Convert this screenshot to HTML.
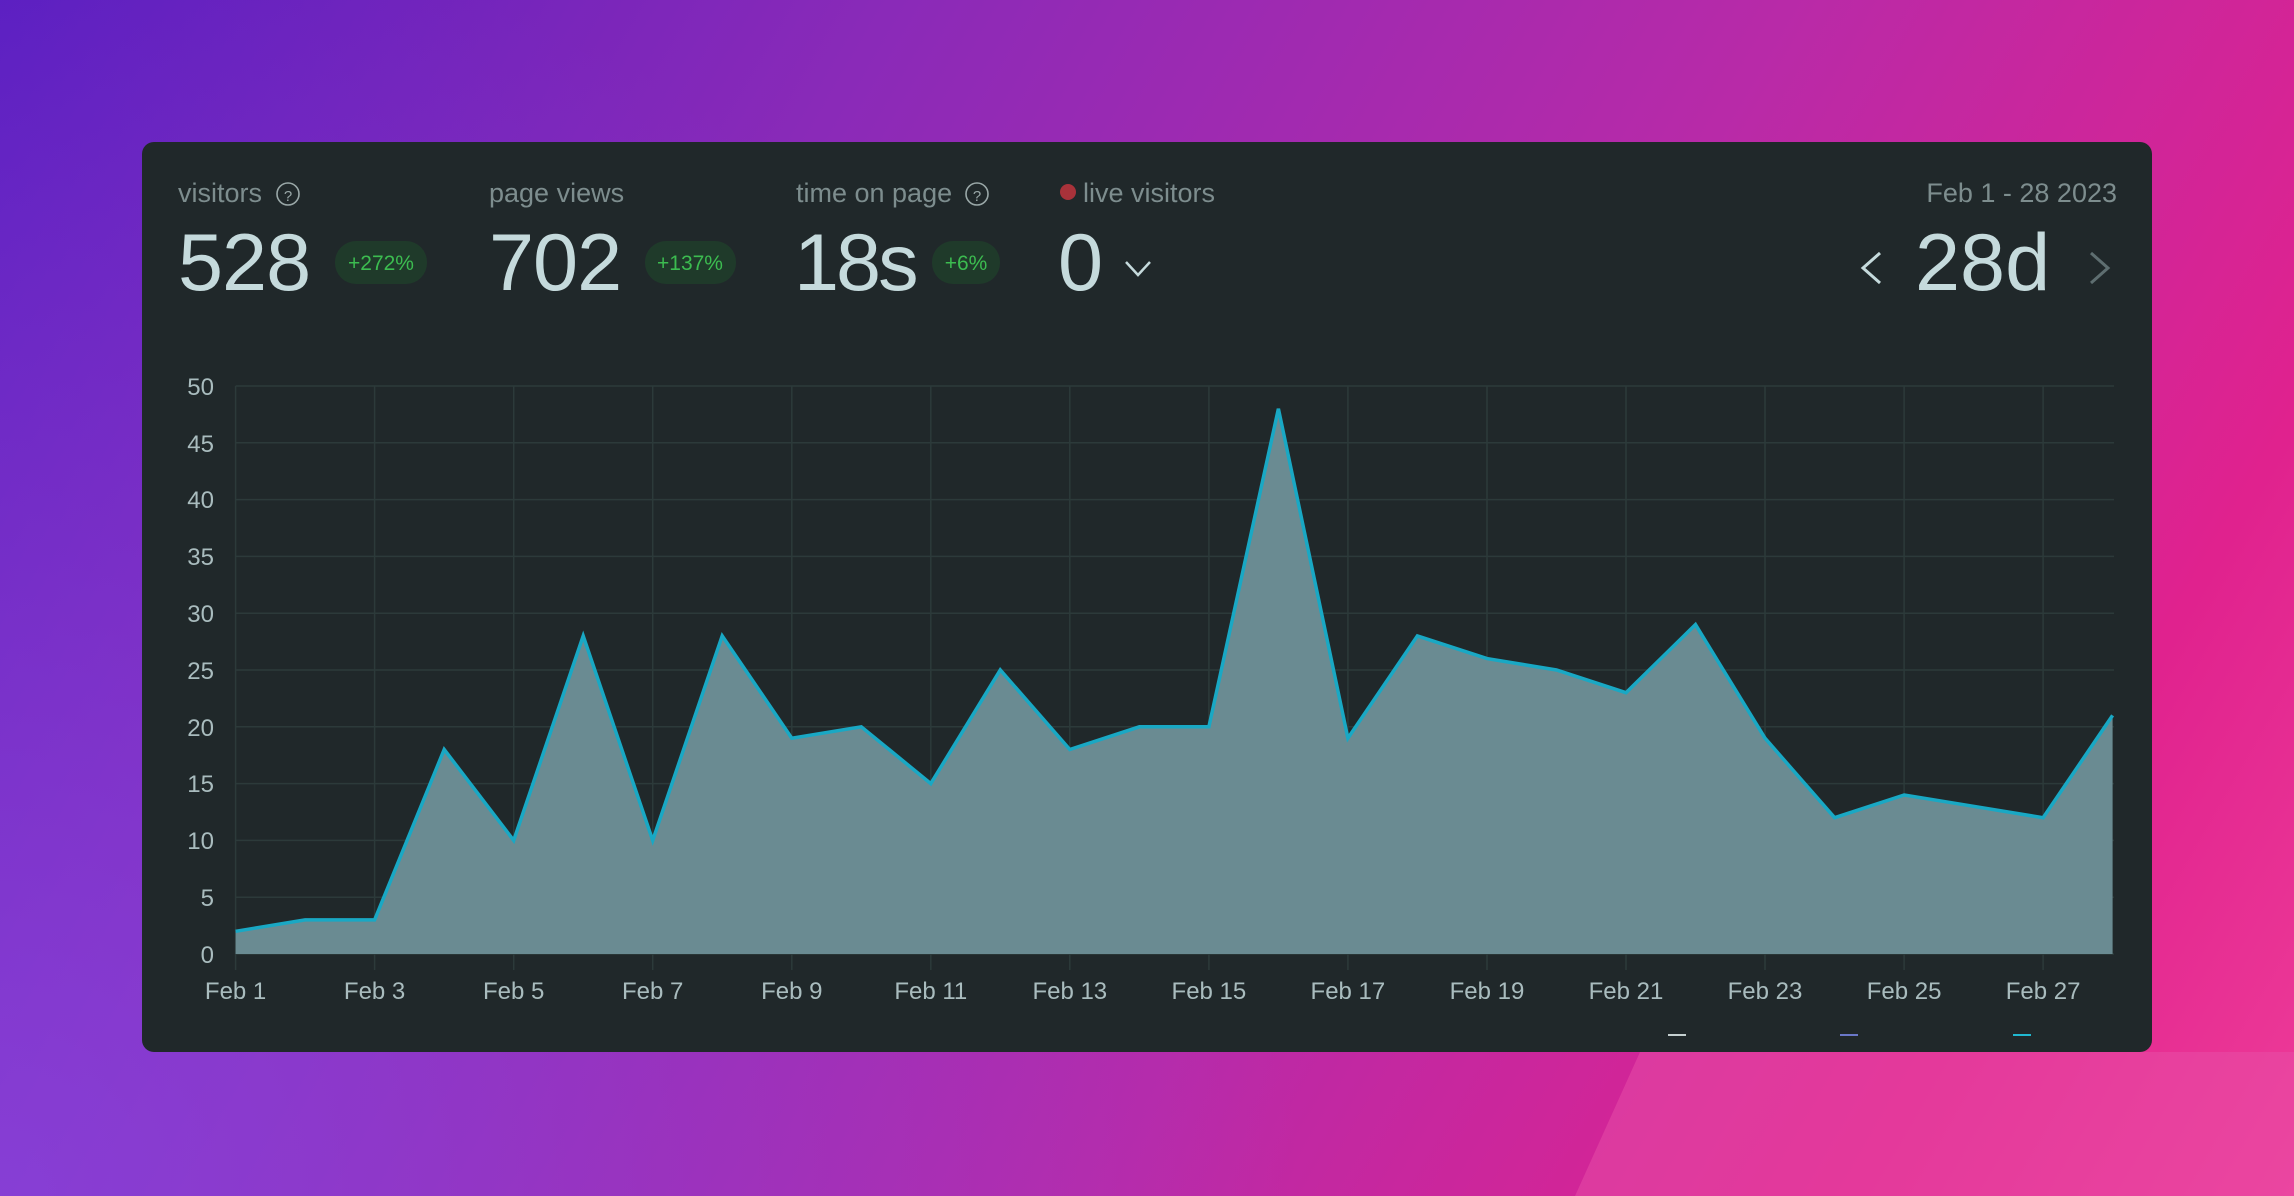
<!DOCTYPE html>
<html><head><style>
html,body{margin:0;padding:0;width:2294px;height:1196px;overflow:hidden}
body{background:linear-gradient(120deg,#5a1ec0 0%,#8a2ab8 30%,#b82aa8 60%,#e0228e 85%,#ee3c98 100%)}
</style></head><body>
<svg width="2294" height="1196" viewBox="0 0 2294 1196" xmlns="http://www.w3.org/2000/svg" style="position:absolute;left:0;top:0">
<defs>
<radialGradient id="bl" cx="0" cy="1196" r="1300" gradientUnits="userSpaceOnUse"><stop offset="0" stop-color="#8a48e0" stop-opacity="0.7"/><stop offset="0.5" stop-color="#8a48e0" stop-opacity="0.3"/><stop offset="1" stop-color="#8a48e0" stop-opacity="0"/></radialGradient>
</defs>
<rect x="0" y="0" width="2294" height="1196" fill="url(#bl)"/>
<polygon points="1640,1052 2294,1052 2294,1196 1575,1196" fill="#e850a8" opacity="0.5"/>
<rect x="142" y="142" width="2010" height="910" rx="12" fill="#20282a"/>
<g font-family="Liberation Sans, sans-serif">
<text x="178" y="202" font-size="27" fill="#7d8d8e">visitors</text>
<circle cx="288" cy="194" r="11" fill="none" stroke="#9aa8a8" stroke-width="1.6"/><text x="288" y="201" font-size="15" fill="#9aa8a8" text-anchor="middle">?</text>
<text x="178" y="290" font-size="81" fill="#c5dadc" letter-spacing="-1">528</text>
<rect x="335" y="241" width="92" height="43" rx="21" fill="#1f3a2a"/><text x="381" y="270" font-size="21" fill="#3cbc50" text-anchor="middle">+272%</text>

<text x="489" y="202" font-size="27" fill="#7d8d8e">page views</text>
<text x="489" y="290" font-size="81" fill="#c5dadc" letter-spacing="-1">702</text>
<rect x="645" y="241" width="91" height="43" rx="21" fill="#1f3a2a"/><text x="690" y="270" font-size="21" fill="#3cbc50" text-anchor="middle">+137%</text>

<text x="796" y="202" font-size="27" fill="#7d8d8e">time on page</text>
<circle cx="977" cy="194" r="11" fill="none" stroke="#9aa8a8" stroke-width="1.6"/><text x="977" y="201" font-size="15" fill="#9aa8a8" text-anchor="middle">?</text>
<text x="794" y="290" font-size="81" fill="#c5dadc" letter-spacing="-3">18s</text>
<rect x="932" y="241" width="68" height="43" rx="21" fill="#1f3a2a"/><text x="966" y="270" font-size="21" fill="#3cbc50" text-anchor="middle">+6%</text>

<circle cx="1068" cy="192" r="8" fill="#a8323a"/>
<text x="1083" y="202" font-size="27" fill="#7d8d8e">live visitors</text>
<text x="1058" y="290" font-size="81" fill="#c5dadc">0</text>
<polyline points="1126,262 1138,275 1150,262" fill="none" stroke="#c5dadc" stroke-width="2.5"/>

<text x="2117" y="202" font-size="27" fill="#7d8d8e" text-anchor="end">Feb 1 - 28 2023</text>
<text x="1915" y="290" font-size="81" fill="#c5dadc" letter-spacing="0">28d</text>
<polyline points="1880,253 1863,268 1880,283" fill="none" stroke="#c5dadc" stroke-width="3"/>
<polyline points="2091,253 2108,268 2091,283" fill="none" stroke="#5e6e70" stroke-width="3"/>

<g stroke="#2c3a3a" stroke-width="1.5">
<line x1="235.6" x2="2114" y1="386" y2="386"/><line x1="235.6" x2="2114" y1="442.8" y2="442.8"/><line x1="235.6" x2="2114" y1="499.6" y2="499.6"/><line x1="235.6" x2="2114" y1="556.4" y2="556.4"/><line x1="235.6" x2="2114" y1="613.2" y2="613.2"/><line x1="235.6" x2="2114" y1="670" y2="670"/><line x1="235.6" x2="2114" y1="726.8" y2="726.8"/><line x1="235.6" x2="2114" y1="783.6" y2="783.6"/><line x1="235.6" x2="2114" y1="840.4" y2="840.4"/><line x1="235.6" x2="2114" y1="897.2" y2="897.2"/><line x1="235.6" x2="2114" y1="954" y2="954"/>
<line x1="235.6" x2="235.6" y1="386" y2="970"/><line x1="374.6" x2="374.6" y1="386" y2="970"/><line x1="513.7" x2="513.7" y1="386" y2="970"/><line x1="652.7" x2="652.7" y1="386" y2="970"/><line x1="791.8" x2="791.8" y1="386" y2="970"/><line x1="930.8" x2="930.8" y1="386" y2="970"/><line x1="1069.8" x2="1069.8" y1="386" y2="970"/><line x1="1208.9" x2="1208.9" y1="386" y2="970"/><line x1="1347.9" x2="1347.9" y1="386" y2="970"/><line x1="1487" x2="1487" y1="386" y2="970"/><line x1="1626" x2="1626" y1="386" y2="970"/><line x1="1765" x2="1765" y1="386" y2="970"/><line x1="1904.1" x2="1904.1" y1="386" y2="970"/><line x1="2043.1" x2="2043.1" y1="386" y2="970"/>
</g>
<polygon fill="#6a8b92" points="235.6,954 235.6,931.3 305.1,919.9 374.6,919.9 444.2,749.5 513.7,840.4 583.2,635.9 652.7,840.4 722.2,635.9 791.8,738.2 861.3,726.8 930.8,783.6 1000.3,670 1069.8,749.5 1139.4,726.8 1208.9,726.8 1278.4,408.7 1347.9,738.2 1417.4,635.9 1487,658.6 1556.5,670 1626,692.7 1695.5,624.6 1765,738.2 1834.6,817.7 1904.1,795 1973.6,806.3 2043.1,817.7 2112.6,715.4 2112.6,954"/>
<polyline fill="none" stroke="#19a8c4" stroke-width="3.5" stroke-linejoin="miter" points="235.6,931.3 305.1,919.9 374.6,919.9 444.2,749.5 513.7,840.4 583.2,635.9 652.7,840.4 722.2,635.9 791.8,738.2 861.3,726.8 930.8,783.6 1000.3,670 1069.8,749.5 1139.4,726.8 1208.9,726.8 1278.4,408.7 1347.9,738.2 1417.4,635.9 1487,658.6 1556.5,670 1626,692.7 1695.5,624.6 1765,738.2 1834.6,817.7 1904.1,795 1973.6,806.3 2043.1,817.7 2112.6,715.4"/>
<g font-size="24" fill="#a9bcbe" text-anchor="end">
<text x="214" y="395">50</text><text x="214" y="452">45</text><text x="214" y="508">40</text><text x="214" y="565">35</text><text x="214" y="622">30</text><text x="214" y="679">25</text><text x="214" y="736">20</text><text x="214" y="792">15</text><text x="214" y="849">10</text><text x="214" y="906">5</text><text x="214" y="963">0</text>
</g>
<g font-size="24" fill="#a9bcbe" text-anchor="middle">
<text x="235.6" y="999">Feb 1</text><text x="374.6" y="999">Feb 3</text><text x="513.7" y="999">Feb 5</text><text x="652.7" y="999">Feb 7</text><text x="791.8" y="999">Feb 9</text><text x="930.8" y="999">Feb 11</text><text x="1069.8" y="999">Feb 13</text><text x="1208.9" y="999">Feb 15</text><text x="1347.9" y="999">Feb 17</text><text x="1487" y="999">Feb 19</text><text x="1626" y="999">Feb 21</text><text x="1765" y="999">Feb 23</text><text x="1904.1" y="999">Feb 25</text><text x="2043.1" y="999">Feb 27</text>
</g>
</g>
<rect x="1668" y="1034" width="18" height="2" fill="#c5d0d0"/>
<rect x="1840" y="1034" width="18" height="2" fill="#6a78c8"/>
<rect x="2013" y="1034" width="18" height="2" fill="#20b8d0"/>
</svg>
</body></html>
